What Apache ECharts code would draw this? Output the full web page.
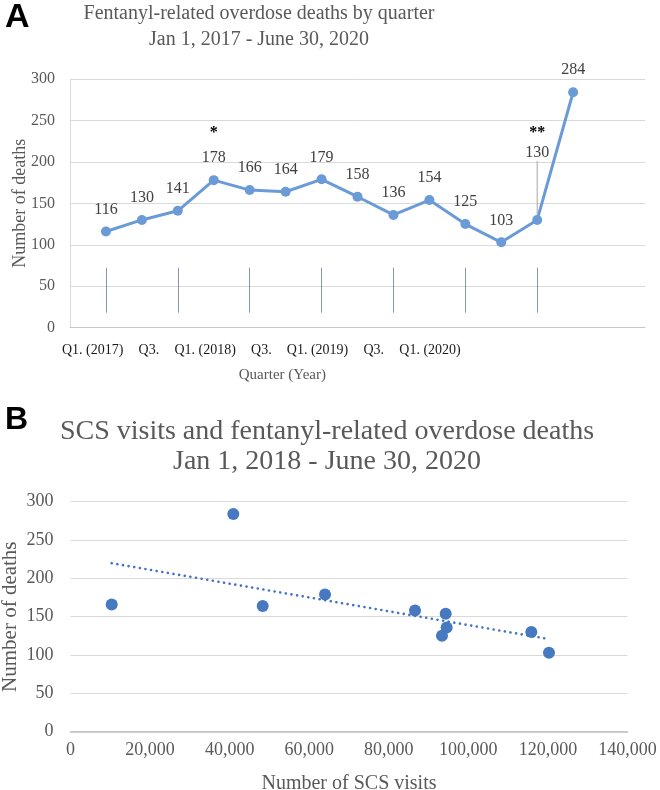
<!DOCTYPE html>
<html><head><meta charset="utf-8">
<script src="https://cdn.jsdelivr.net/npm/echarts@6/dist/echarts.min.js"></script>
<style>html,body{margin:0;padding:0;background:#fff}#c{width:660px;height:790px}</style>
</head><body><div id="c"></div>
<script>
// ---- Panel A data ----
const quarters = ['Q1 2017','Q2 2017','Q3 2017','Q4 2017','Q1 2018','Q2 2018','Q3 2018','Q4 2018','Q1 2019','Q2 2019','Q3 2019','Q4 2019','Q1 2020','Q2 2020'];
const deaths = [116,130,141,178,166,164,179,158,136,154,125,103,130,284];
const significance = ['','','','*','','','','','','','','','**',''];
const quarterTickIdx = [0,2,4,6,8,10,12];
const quarterLabels = ['Q1. (2017)','Q3.','Q1. (2018)','Q3.','Q1. (2019)','Q3.','Q1. (2020)'];
const liftedLabelIdx = 12;

// ---- Panel B data (Q1 2018 .. Q2 2020) ----
const scsQuarters = ['Q1 2018','Q2 2018','Q3 2018','Q4 2018','Q1 2019','Q2 2019','Q3 2019','Q4 2019','Q1 2020','Q2 2020'];
const scsVisits = [10355,48310,63970,86590,94550,94300,93370,120270,115830,40920];
const scsDeaths = [166,164,179,158,136,154,125,103,130,284];

// least-squares trendline
const n = scsVisits.length;
const mx = scsVisits.reduce((a,b)=>a+b,0)/n;
const my = scsDeaths.reduce((a,b)=>a+b,0)/n;
let sxy=0, sxx=0;
for (let i=0;i<n;i++){ sxy += (scsVisits[i]-mx)*(scsDeaths[i]-my); sxx += (scsVisits[i]-mx)**2; }
const slope = sxy/sxx, icpt = my - slope*mx;
const xMin = Math.min(...scsVisits), xMax = Math.max(...scsVisits);
const trend = [[xMin, icpt+slope*xMin],[xMax, icpt+slope*xMax]];

const serifA = 'Liberation Serif';
const chart = echarts.init(document.getElementById('c'), null, {renderer:'canvas'});
chart.setOption({
  animation:false,
  backgroundColor:'#fff',
  title:[
    {text:'A', left:5, top:1, padding:0, textStyle:{fontFamily:'Liberation Sans', fontWeight:'bold', fontSize:34, color:'#000'}},
    {text:'Fentanyl-related overdose deaths by quarter\nJan 1, 2017 - June 30, 2020', left:259, textAlign:'center', top:1, padding:0,
     textStyle:{fontFamily:serifA, fontSize:20, lineHeight:26, color:'#595959', fontWeight:'normal'}},
    {text:'B', left:5, top:404, padding:0, textStyle:{fontFamily:'Liberation Sans', fontWeight:'bold', fontSize:32, color:'#000'}},
    {text:'SCS visits and fentanyl-related overdose deaths\nJan 1, 2018 - June 30, 2020', left:327, textAlign:'center', top:417, padding:0,
     textStyle:{fontFamily:serifA, fontSize:28, lineHeight:30, color:'#595959', fontWeight:'normal'}}
  ],
  grid:[
    {left:70, right:15, top:79, bottom:462.3, outerBoundsMode:'none', containLabel:false},
    {left:92.7, width:337.3, top:79, bottom:462.3, outerBoundsMode:'none', containLabel:false},
    {left:70.5, right:32.5, top:501.7, bottom:58.3, outerBoundsMode:'none', containLabel:false}
  ],
  xAxis:[
    {type:'value', gridIndex:0, min:-1, max:15, axisLine:{show:true, onZero:false, lineStyle:{color:'#c8c8c8', width:1.2}}, axisTick:{show:false}, axisLabel:{show:false}, splitLine:{show:false}},
    {type:'value', gridIndex:0, min:-1, max:15, position:'bottom', offset:-15, axisLine:{show:false, onZero:false}, axisLabel:{show:false}, splitLine:{show:false},
     axisTick:{show:true, inside:true, length:45, customValues:quarterTickIdx, lineStyle:{color:'#8497b0', width:1}}},
    {type:'category', gridIndex:1, boundaryGap:false, data:quarterLabels, axisLine:{show:false, onZero:false}, axisTick:{show:false}, splitLine:{show:false},
     axisLabel:{interval:0, margin:16, fontFamily:serifA, fontSize:14, color:'#1a1a1a'},
     name:'Quarter (Year)', nameLocation:'middle', nameGap:40, nameMoveOverlap:false, nameTextStyle:{fontFamily:serifA, fontSize:15, color:'#595959', padding:[0,0,0,42]}},
    {type:'value', gridIndex:2, min:0, max:140000, interval:20000, axisLine:{show:true, onZero:false, lineStyle:{color:'#bfbfbf', width:1.5}}, axisTick:{show:false}, splitLine:{show:false},
     axisLabel:{margin:10, fontFamily:serifA, fontSize:18, color:'#595959', formatter:v=>v.toLocaleString('en-US')},
     name:'Number of SCS visits', nameLocation:'middle', nameGap:42, nameMoveOverlap:false, nameTextStyle:{fontFamily:serifA, fontSize:20, color:'#595959'}}
  ],
  yAxis:[
    {type:'value', gridIndex:0, min:0, max:300, interval:50, axisLine:{show:true, onZero:false, lineStyle:{color:'#d9d9d9'}}, axisTick:{show:false},
     splitLine:{lineStyle:{color:'#d9d9d9', width:1}}, axisLabel:{margin:15, fontFamily:serifA, fontSize:16, color:'#595959'},
     name:'Number of deaths', nameLocation:'middle', nameGap:41, nameMoveOverlap:false, nameTextStyle:{fontFamily:serifA, fontSize:18, color:'#595959'}},
    {type:'value', gridIndex:1, min:0, max:300, show:false},
    {type:'value', gridIndex:2, min:0, max:300, interval:50, axisLine:{show:false, onZero:false}, axisTick:{show:false},
     splitLine:{lineStyle:{color:'#d9d9d9', width:1}}, axisLabel:{margin:17, fontFamily:serifA, fontSize:18, color:'#595959'},
     name:'Number of deaths', nameLocation:'middle', nameGap:50, nameMoveOverlap:false, nameTextStyle:{fontFamily:serifA, fontSize:21, color:'#595959'}}
  ],
  series:[
    {type:'line', xAxisIndex:0, yAxisIndex:0, symbol:'circle', symbolSize:10,
     lineStyle:{color:'#6a9bd6', width:3}, itemStyle:{color:'#6a9bd6'},
     data:deaths.map((v,i)=>{
       const item = {value:[i,v], name:quarters[i]};
       if (i===liftedLabelIdx) item.labelLine = {show:true, lineStyle:{color:'#a6a6a6', width:1}};
       return item;
     }),
     label:{show:true, position:'top', distance:8,
       formatter:p=>{const m=significance[p.dataIndex]; const v='{v|'+p.value[1]+'}'; return m ? '{s'+m.length+'|'+m+'}\n'+v : v;},
       rich:{v:{fontFamily:serifA, fontSize:16, color:'#404040', lineHeight:18},
             s1:{fontFamily:serifA, fontSize:16, fontWeight:'bold', color:'#000', lineHeight:32},
             s2:{fontFamily:serifA, fontSize:16, fontWeight:'bold', color:'#000', lineHeight:22}}},
     labelLayout:p=> p.dataIndex===liftedLabelIdx ? {dy:-45} : {}
    },
    {type:'scatter', xAxisIndex:3, yAxisIndex:2, symbolSize:12, itemStyle:{color:'#4779c0', opacity:1},
     data:scsVisits.map((x,i)=>({value:[x, scsDeaths[i]], name:scsQuarters[i]})), z:2},
    {type:'line', xAxisIndex:3, yAxisIndex:2, symbol:'none', data:trend, z:3,
     lineStyle:{color:'#4472c4', width:2.6, type:[0.1,5.6], cap:'round'}}
  ]
});
</script></body></html>
